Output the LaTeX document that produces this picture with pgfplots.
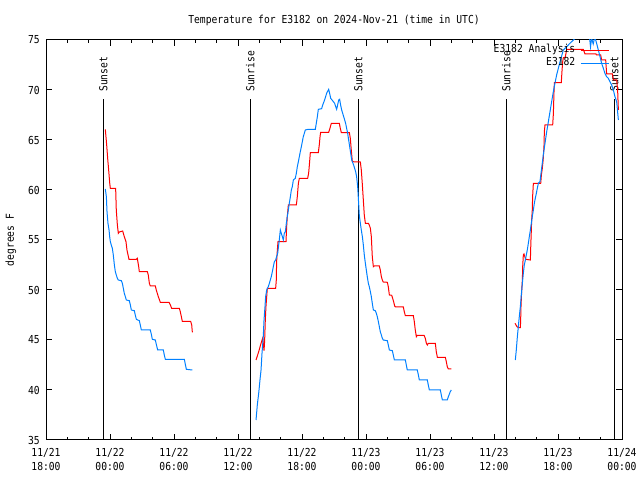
\documentclass[border=0pt]{standalone}
\usepackage{pgfplots}
\pgfplotsset{compat=1.18}
\usepackage{fontspec}
\setmainfont{DejaVu Sans Mono}[FakeStretch=0.88]
\definecolor{anared}{RGB}{255,0,0}
\definecolor{obsblue}{RGB}{0,128,255}
\begin{document}
\begin{tikzpicture}[font=\fontsize{11bp}{14bp}\selectfont]
\path[use as bounding box] (-46bp,-40bp) rectangle (594bp,440bp);
\begin{axis}[
  scale only axis, width=576bp, height=400bp,
  at={(0,0)}, anchor=south west,
  xmin=0, xmax=54, ymin=35, ymax=75,
  axis line style={line width=1bp},
  every tick/.style={black, line width=1bp},
  major tick length=6bp, minor tick length=3bp,
  xtick={0,6,...,54},
  minor x tick num=2,
  xticklabels={{11/21\\18:00},{11/22\\00:00},{11/22\\06:00},{11/22\\12:00},{11/22\\18:00},{11/23\\00:00},{11/23\\06:00},{11/23\\12:00},{11/23\\18:00},{11/24\\00:00}},
  xticklabel style={align=center, anchor=north, inner sep=0pt, yshift=-8bp},
  ytick={35,40,...,75},
  /pgf/number format/assume math mode=true,
  yticklabel style={anchor=east, inner sep=0pt, xshift=-6bp},
  ylabel={degrees F},
  ylabel style={at={(axis description cs:-0.061,0.5)}, anchor=center, inner sep=0pt},
  title={Temperature for E3182 on 2024-Nov-21 (time in UTC)},
  title style={at={(axis description cs:0.5,1)}, anchor=base, inner sep=0pt, yshift=11bp},
  unbounded coords=jump,
  legend plot pos=right,
  legend cell align=right,
  legend image code/.code={\draw[#1] (0bp,0bp) -- (28bp,0bp);},
  legend style={draw=none, fill=none, at={(axis description cs:0.978,1)}, anchor=north east,
    yshift=-4bp,
    inner sep=0pt, outer sep=0pt, row sep=0pt, column sep=5bp,
    nodes={inner sep=0pt, text height=9bp, text depth=4bp}},
]
% sunrise / sunset markers
\addplot[black, line width=1bp, forget plot] coordinates {(5.37,35) (5.37,69.1)};
\addplot[black, line width=1bp, forget plot] coordinates {(19.15,35) (19.15,69.1)};
\addplot[black, line width=1bp, forget plot] coordinates {(29.28,35) (29.28,69.1)};
\addplot[black, line width=1bp, forget plot] coordinates {(43.16,35) (43.16,69.1)};
\addplot[black, line width=1bp, forget plot] coordinates {(53.28,35) (53.28,69.1)};
\node[rotate=90, anchor=west, inner sep=0pt] at (axis cs:5.37,69.8) {Sunset};
\node[rotate=90, anchor=west, inner sep=0pt] at (axis cs:19.15,69.8) {Sunrise};
\node[rotate=90, anchor=west, inner sep=0pt] at (axis cs:29.28,69.8) {Sunset};
\node[rotate=90, anchor=west, inner sep=0pt] at (axis cs:43.16,69.8) {Sunrise};
\node[rotate=90, anchor=west, inner sep=0pt] at (axis cs:53.28,69.8) {Sunset};
% E3182 Analysis
\addplot[anared, line width=1bp] coordinates {
(5.56,66.07) (5.69,64.5) (5.78,63.17) (5.875,62.0) (5.97,60.73) (6.03,60.17) (6.53,60.17) (6.59,58.0) (6.69,56.5) (6.78,55.67) (6.87,55.8) (7.19,55.9) (7.34,55.33) (7.5,54.83) (7.59,54.0) (7.78,53.07) (8.47,53.07) (8.56,53.17) (8.69,52.33) (8.75,51.83) (9.5,51.83) (9.59,51.5) (9.69,50.67) (9.78,50.4) (10.25,50.4) (10.34,50.0) (10.53,49.33) (10.72,48.77) (11.53,48.77) (11.66,48.5) (11.78,48.17) (12.5,48.17) (12.59,47.83) (12.69,47.33) (12.78,46.87) (13.56,46.87) (13.66,46.5) (13.72,45.77)
(16,nan)
(19.69,43.0) (19.94,43.83) (20.16,44.67) (20.31,45.17) (20.37,44.67) (20.44,43.93) (20.5,45.0) (20.56,47.0) (20.62,48.33) (20.69,49.33) (20.75,50.17) (21.53,50.17) (21.59,51.0) (21.62,52.83) (21.69,54.0) (21.75,54.83) (22.5,54.83) (22.56,56.33) (22.62,57.33) (22.72,58.5) (23.47,58.5) (23.56,59.33) (23.66,60.67) (23.75,61.17) (24.53,61.17) (24.62,61.67) (24.69,62.5) (24.78,63.73) (25.53,63.73) (25.62,64.5) (25.69,65.33) (25.75,65.77) (26.5,65.77) (26.62,66.17) (26.75,66.67) (27.5,66.67) (27.59,66.17) (27.69,65.73) (28.44,65.73) (28.53,65.17) (28.62,64.0) (28.72,62.83) (29.47,62.8) (29.56,62.0) (29.66,60.5) (29.75,59.0) (29.84,57.5) (29.94,56.67) (30.22,56.67) (30.31,56.5) (30.41,56.17) (30.5,55.33) (30.59,53.33) (30.69,52.33) (30.78,52.4) (31.25,52.4) (31.34,52.0) (31.44,51.33) (31.53,51.0) (31.62,50.8) (32.0,50.77) (32.09,50.33) (32.19,49.5) (32.41,49.47) (32.5,49.17) (32.59,48.83) (32.69,48.4) (32.78,48.3) (33.5,48.3) (33.59,47.83) (33.69,47.43) (34.44,47.43) (34.53,46.83) (34.62,46.0) (34.72,45.33) (34.81,45.47) (35.44,45.47) (35.56,45.17) (35.66,44.67) (35.75,44.5) (35.84,44.67) (36.5,44.67) (36.59,43.83) (36.69,43.27) (37.44,43.27) (37.53,42.83) (37.62,42.33) (37.72,42.1) (38.0,42.1)
(40,nan)
(43.97,46.67) (44.16,46.33) (44.28,46.23) (44.47,46.23) (44.5,47.0) (44.53,48.33) (44.59,49.83) (44.66,51.0) (44.69,52.33) (44.75,53.5) (44.81,53.6) (44.97,53.07) (45.41,53.0) (45.44,54.17) (45.5,56.0) (45.53,57.0) (45.59,58.0) (45.62,59.33) (45.69,60.67) (46.38,60.67) (46.44,61.5) (46.53,62.17) (46.62,63.17) (46.69,64.5) (46.72,65.83) (46.78,66.5) (47.5,66.5) (47.56,67.5) (47.59,68.5) (47.62,69.67) (47.66,70.73) (48.31,70.73) (48.37,71.83) (48.44,72.83) (48.5,73.23) (48.66,73.23) (48.75,73.67) (48.81,74.07) (50.37,74.07) (50.53,73.6) (51.56,73.6) (51.62,73.5) (52.0,73.5) (52.09,73.0) (52.47,73.0) (52.56,71.6) (53.1,71.6) (53.19,71.0) (53.5,71.0) (53.59,70.0) (53.66,68.0)
};
\addlegendentry{E3182 Analysis}
% E3182 observed
\addplot[obsblue, line width=1bp] coordinates {
(5.56,60.1) (5.66,59.33) (5.72,57.83) (5.81,56.67) (5.91,56.0) (5.97,55.33) (6.03,54.83) (6.12,54.5) (6.22,54.17) (6.31,53.5) (6.41,52.5) (6.5,51.83) (6.59,51.5) (6.69,51.17) (6.78,51.0) (7.06,50.93) (7.16,50.67) (7.25,50.17) (7.34,49.67) (7.44,49.33) (7.53,49.0) (7.81,48.93) (7.91,48.5) (8.0,48.0) (8.28,47.93) (8.37,47.5) (8.47,47.07) (8.75,46.93) (8.84,46.5) (8.94,46.0) (9.78,46.0) (9.875,45.57) (9.97,45.07) (10.25,45.0) (10.34,44.57) (10.47,44.0) (11.0,44.0) (11.09,43.5) (11.19,43.07) (12.97,43.07) (13.06,42.57) (13.16,42.07) (13.72,42.0)
(16,nan)
(19.69,37.0) (19.81,38.5) (19.94,39.67) (20.06,41.0) (20.16,42.0) (20.25,43.67) (20.37,45.33) (20.44,47.0) (20.53,48.33) (20.59,49.33) (20.69,50.0) (20.84,50.33) (20.94,50.67) (21.03,51.0) (21.12,51.33) (21.22,51.83) (21.31,52.33) (21.41,52.83) (21.53,53.0) (21.62,53.33) (21.72,53.67) (21.87,55.0) (21.97,56.0) (22.06,55.67) (22.16,55.33) (22.25,55.0) (22.34,55.67) (22.44,55.83) (22.53,56.67) (22.62,57.33) (22.72,58.0) (22.81,58.67) (22.91,59.33) (23.0,60.0) (23.09,60.33) (23.19,61.0) (23.37,61.17) (23.47,61.67) (23.56,62.33) (23.66,62.83) (23.75,63.33) (23.84,63.83) (23.94,64.33) (24.03,64.83) (24.12,65.33) (24.22,65.67) (24.31,66.0) (24.59,66.07) (25.25,66.07) (25.34,66.67) (25.44,67.33) (25.53,68.07) (25.84,68.13) (25.94,68.5) (26.12,69.0) (26.31,69.67) (26.5,70.07) (26.59,69.67) (26.69,69.17) (26.87,68.93) (27.06,68.67) (27.16,68.33) (27.25,68.07) (27.34,68.5) (27.44,69.0) (27.53,69.07) (27.62,68.5) (27.72,68.0) (27.91,67.33) (28.09,66.67) (28.28,65.67) (28.47,64.33) (28.66,63.0) (28.84,62.5) (29.03,61.83) (29.12,61.33) (29.22,60.33) (29.31,58.67) (29.37,57.5) (29.47,56.67) (29.56,56.0) (29.66,55.33) (29.75,54.5) (29.84,53.5) (29.94,52.67) (30.03,52.0) (30.12,51.33) (30.22,50.67) (30.31,50.33) (30.41,49.83) (30.5,49.33) (30.59,48.67) (30.69,48.0) (30.87,47.93) (30.97,47.67) (31.06,47.33) (31.16,46.83) (31.25,46.33) (31.34,45.83) (31.44,45.5) (31.53,45.17) (31.62,45.0) (32.0,44.93) (32.09,44.5) (32.19,44.0) (32.47,43.93) (32.56,43.5) (32.66,43.0) (33.69,43.0) (33.78,42.5) (33.87,42.0) (34.81,42.0) (34.91,41.5) (35.0,41.0) (35.75,41.0) (35.84,40.5) (35.94,40.0) (36.97,40.0) (37.06,39.5) (37.16,39.0) (37.62,39.0) (37.72,39.33) (37.9,39.83) (38.0,40.0)
(40,nan)
(44.0,43.0) (44.09,44.0) (44.19,45.33) (44.28,46.33) (44.37,47.33) (44.47,48.33) (44.56,49.5) (44.66,50.67) (44.75,51.67) (44.84,52.5) (44.94,53.0) (45.03,53.5) (45.12,54.0) (45.22,54.67) (45.31,55.33) (45.41,56.0) (45.5,56.67) (45.59,57.33) (45.69,58.0) (45.78,58.67) (45.87,59.17) (45.97,59.67) (46.06,60.17) (46.16,60.67) (46.31,60.83) (46.62,63.5) (46.94,65.83) (47.25,67.83) (47.56,69.83) (47.87,71.5) (48.19,72.83) (48.5,74.0) (48.81,74.33) (49.12,74.67) (49.44,75.0) (49.9,75.5) (50.5,75.8) (50.95,75.3) (51.05,74.3) (51.15,75.2) (51.3,74.6) (51.45,75.3) (51.62,74.67) (51.78,74.0) (51.94,73.33) (52.09,72.67) (52.25,72.17) (52.4,71.67) (52.56,71.33) (52.72,71.17) (52.87,70.83) (53.03,70.5) (53.19,70.0) (53.34,69.33) (53.5,68.83) (53.66,67.0)
};
\addlegendentry{E3182}
\end{axis}
\end{tikzpicture}
\end{document}
